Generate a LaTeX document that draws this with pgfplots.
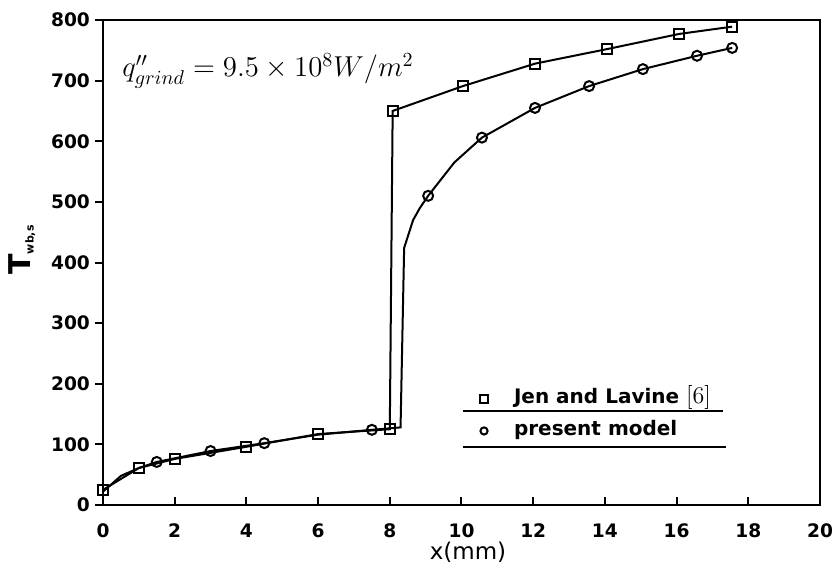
\documentclass[border=0pt]{standalone}
\usepackage{fontspec}
\setmainfont{DejaVu Sans}
\usepackage{graphicx}
\usepackage{pgfplots}
\pgfplotsset{compat=1.18}
\begin{document}
\begin{tikzpicture}
\begin{axis}[
    scale only axis,
    width=358.5pt, height=242.5pt,
    xmin=0, xmax=20, ymin=0, ymax=800,
    xtick={0,2,...,20},
    ytick={0,100,...,800},
    tick pos=left,
    tick align=inside,
    major tick length=4pt,
    ytick style={xshift=-4pt},
    every tick/.style={black, line width=1pt},
    axis line style={line width=1.2pt},
    /pgf/number format/assume math mode=true,
    ticklabel style={font=\fontsize{9.3}{10}\selectfont\bfseries},
    xticklabel style={yshift=-6pt},
    yticklabel style={xshift=-3pt},
    xlabel={x(mm)},
    every axis x label/.style={at={(axis description cs:0.509,-0.097)}, anchor=center,
        font=\fontsize{11.5}{12}\selectfont},
    legend style={draw=none, fill=none, at={(axis cs:10.35,197)}, anchor=north west,
        font=\fontsize{10}{10}\selectfont\bfseries,
        nodes={inner sep=0pt, text height=7pt, text depth=2pt},
        row sep=7pt},
    legend cell align=left,
    /tikz/every even column/.append style={column sep=0pt},
    legend image code/.code={\path[draw=none] (0pt,0pt) -- (15pt,0pt); \draw[#1, mark size=1.8pt, line width=0.9pt] plot[only marks] coordinates {(0pt,0pt)};},
]
% Jen and Lavine [6]
\addplot[black, line width=1pt, mark=square, mark size=2.5pt, mark options={solid, fill=white, line width=1pt}] coordinates {
    (0,25) (1,61) (2,76) (4,96) (6,117) (8,125)
    (8.08,650) (10.04,691) (12.05,728) (14.06,752) (16.07,777) (17.55,789)
};
\addlegendentry{Jen and Lavine {\normalfont\fontsize{12}{12}\selectfont$[6]$}}
% present model, curve
\addplot[black, line width=1pt, forget plot] coordinates {
    (0,22) (0.5,48) (1,61) (1.5,71) (3,89) (4.5,102) (6,116) (7.5,124) (8.3,128)
    (8.4,424) (8.65,470) (8.84,490) (9.07,510) (9.8,565) (10.57,606) (12.05,655)
    (13.56,691) (15.06,719) (16.57,741) (17.55,754)
};
% present model, points
\addplot[black, only marks, mark=o, mark size=2.5pt, mark options={fill=white, line width=1pt}] coordinates {
    (1.5,71) (3,89) (4.5,102) (7.5,124) (9.07,510) (10.57,606) (12.05,655)
    (13.56,691) (15.06,719) (16.57,741) (17.55,754)
};
\addlegendentry{present model}
\draw[line width=1.2pt] (axis cs:10.04,155) -- (axis cs:17.29,155);
\draw[line width=1.2pt] (axis cs:10.04,96) -- (axis cs:17.38,96);
\node[anchor=base west, inner sep=0pt, font=\fontsize{14.5}{15}\selectfont] at (axis cs:0.53,706)
    {$q''_{grind} = 9.5\times10^{8}W/m^{2}$};
\end{axis}
\node[anchor=center, inner sep=0pt] at ([xshift=-40.5pt,yshift=127.5pt]current axis.south west)
    {\rotatebox{90}{\fontsize{15}{15}\selectfont\bfseries T\raisebox{-1.5pt}{\fontsize{5.5}{6}\selectfont wb,s}}};
\pgfresetboundingbox
\path[use as bounding box] ([xshift=-51.5pt,yshift=-39pt]current axis.south west) rectangle ++(416pt,291.5pt);
\end{tikzpicture}
\end{document}
